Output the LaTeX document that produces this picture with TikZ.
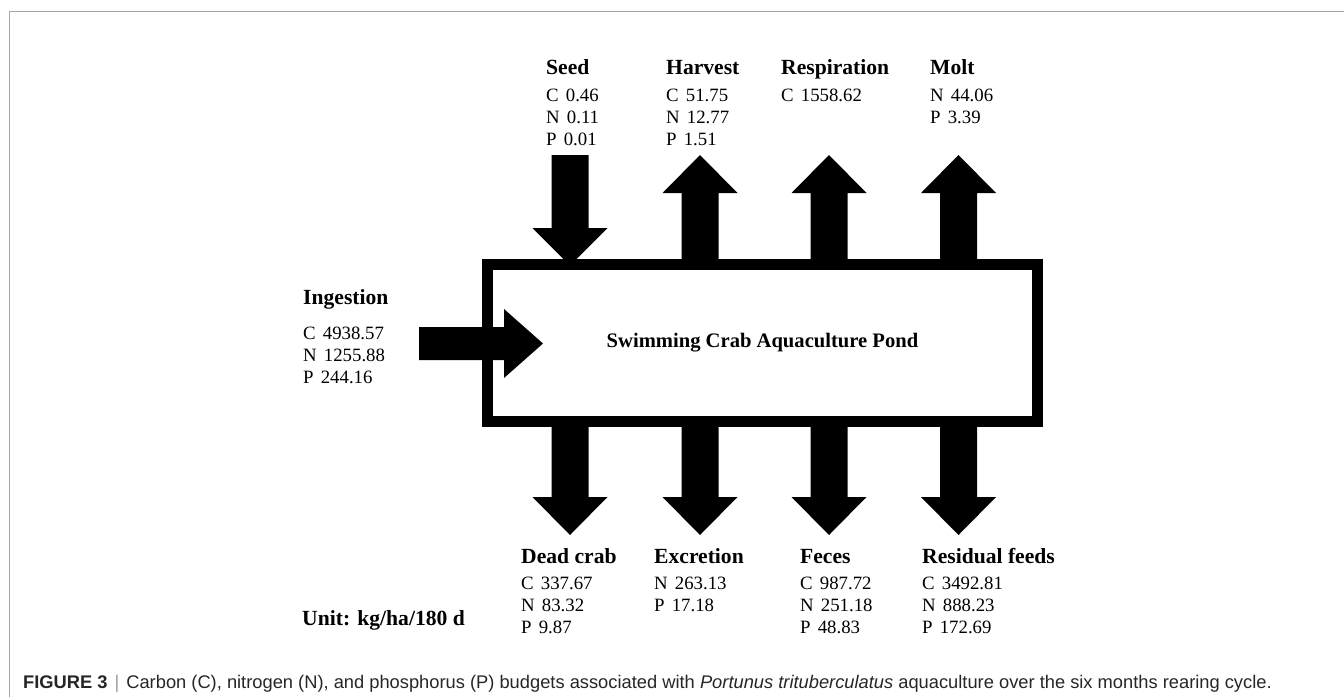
\documentclass[tikz,border=0pt]{standalone}
\usepackage{fontspec}
\setmainfont{Liberation Serif}
\setsansfont{Liberation Sans}
\newcommand\vals[1]{\begin{tabular}[t]{@{}l@{}}#1\end{tabular}}
\newcommand\gapp{\hspace{0.38em}}
\tikzset{
  val/.style={anchor=base west, inner sep=0pt, font=\fontsize{18.8}{22.3}\selectfont},
  ttl/.style={anchor=base west, inner sep=0pt, font=\fontsize{21.6}{25}\selectfont\bfseries},
  flow/.style={fill=black},
  frame/.style={draw=black!35, line width=1pt},
}
\begin{document}
\begin{tikzpicture}[x=1pt,y=-1pt]
\useasboundingbox (0,0) rectangle (1344,697);
% outer frame
\draw[frame] (9,697) -- (9,11) -- (1344,11);

% pond box
\node[draw, line width=11pt, minimum width=550pt, minimum height=157pt, inner sep=0pt,
      font=\fontsize{20.6}{25}\selectfont\bfseries] (pond) at (762.5,343) {Swimming Crab Aquaculture Pond};

% Seed (down arrow into box)
\fill[flow] (551.5,155) -- (551.5,228) -- (532.5,228) -- (570,265.5) -- (607.5,228) -- (588.5,228) -- (588.5,155) -- cycle;
% Harvest, Respiration, Molt (up arrows)
\foreach \cx in {700,829,958.5}{
  \fill[flow] (\cx-18.5,264) -- (\cx-18.5,193) -- (\cx-37.5,193) -- (\cx,155) -- (\cx+37.5,193) -- (\cx+18.5,193) -- (\cx+18.5,264) -- cycle;
}
% bottom arrows (down)
\foreach \cx in {570,700,829,958.5}{
  \fill[flow] (\cx-18.5,421) -- (\cx-18.5,497) -- (\cx-37.5,497) -- (\cx,535) -- (\cx+37.5,497) -- (\cx+18.5,497) -- (\cx+18.5,421) -- cycle;
}
% Ingestion arrow
\fill[flow] (419,327) -- (504,327) -- (504,309) -- (543,343.5) -- (504,378) -- (504,360) -- (419,360) -- cycle;

% top labels
\node[ttl] (seedT) at (546,74) {Seed};
\node[val] (seedV) at (546,101) {\vals{C\gapp 0.46\\N\gapp 0.11\\P\gapp 0.01}};
\node[ttl] (harvT) at (666,74) {Harvest};
\node[val] (harvV) at (666,101) {\vals{C\gapp 51.75\\N\gapp 12.77\\P\gapp 1.51}};
\node[ttl] (respT) at (781,74) {Respiration};
\node[val] (respV) at (781,101) {\vals{C\gapp 1558.62}};
\node[ttl] (moltT) at (930,74) {Molt};
\node[val] (moltV) at (930,101) {\vals{N\gapp 44.06\\P\gapp 3.39}};

% left labels
\node[ttl] (ingT) at (303,304) {Ingestion};
\node[val] (ingV) at (303,339) {\vals{C\gapp 4938.57\\N\gapp 1255.88\\P\gapp 244.16}};

% bottom labels
\node[ttl] (deadT) at (521,563) {Dead crab};
\node[val] (deadV) at (521,589) {\vals{C\gapp 337.67\\N\gapp 83.32\\P\gapp 9.87}};
\node[ttl] (excT) at (654,563) {Excretion};
\node[val] (excV) at (654,589) {\vals{N\gapp 263.13\\P\gapp 17.18}};
\node[ttl] (fecT) at (800,563) {Feces};
\node[val] (fecV) at (800,589) {\vals{C\gapp 987.72\\N\gapp 251.18\\P\gapp 48.83}};
\node[ttl] (resT) at (922,563) {Residual feeds};
\node[val] (resV) at (922,589) {\vals{C\gapp 3492.81\\N\gapp 888.23\\P\gapp 172.69}};

\node[ttl] (unit) at (302,625) {Unit: kg/ha/180 d};

% caption
\node[anchor=base west, inner sep=0pt, text=black!85, font=\sffamily\fontsize{18.3}{21}\selectfont] (cap) at (23,688)
 {{\bfseries FIGURE 3}\hspace{7pt}{\color{black!40}|}\hspace{7pt}Carbon (C), nitrogen (N), and phosphorus (P) budgets associated with \textit{Portunus trituberculatus} aquaculture over the six months rearing cycle.};
\end{tikzpicture}
\end{document}
